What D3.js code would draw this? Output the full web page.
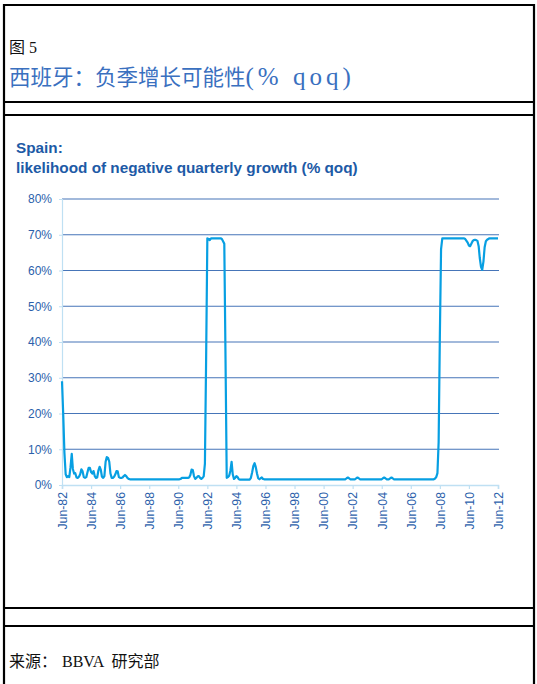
<!DOCTYPE html>
<html>
<head>
<meta charset="utf-8">
<script src="https://cdn.jsdelivr.net/npm/d3@7"></script>
<style>
  body { margin: 0; background: #fff; }
  svg { display: block; }
</style>
</head>
<body>
<script>
// Figure texts
const figureLabel = "图 5";
const cnTitle = ["西班牙：负季增长可能性", "(% qoq)"];
const enTitle = ["Spain:", "likelihood of negative quarterly growth (% qoq)"];
const sourceNote = ["来源：", "BBVA", "研究部"];

// Monthly likelihood of negative q/q growth (%), starting Jun-82, one row per 12 months
const startMonth = "1982-06";
const probNeg = [
  29, 20, 9, 3, 2.2, 2.5, 2.2, 5, 8.7, 4.5, 3.2, 3.3,
  2.1, 2, 2.3, 3, 4.4, 3.8, 2.2, 2, 2.2, 3.5, 4.8, 4.8,
  3.6, 3.2, 3.9, 2.5, 2, 2.1, 4, 5.1, 4.2, 2.3, 2, 2.5,
  6.5, 7.8, 7.6, 6.5, 3.2, 2, 2, 2.3, 3, 3.9, 3.8, 2.2,
  2, 2, 2.1, 2.5, 2.8, 2.5, 2, 1.7, 1.6, 1.6, 1.6, 1.6,
  1.6, 1.6, 1.6, 1.6, 1.6, 1.6, 1.6, 1.6, 1.6, 1.6, 1.6, 1.6,
  1.6, 1.6, 1.6, 1.6, 1.6, 1.6, 1.6, 1.6, 1.6, 1.6, 1.6, 1.6,
  1.6, 1.6, 1.6, 1.6, 1.6, 1.6, 1.6, 1.6, 1.6, 1.6, 1.6, 1.6,
  1.6, 1.6, 1.7, 2, 2, 2, 2, 2, 2, 2.1, 2.8, 4.3,
  4.2, 2.5, 1.7, 2, 2.4, 2.5, 2, 1.7, 2, 2.4, 6, 35,
  69, 68.8, 68.5, 69, 69, 69, 69, 69, 69, 69, 69, 69,
  68.8, 68.2, 67.5, 35, 2, 2.2, 2.6, 4, 6.5, 3, 1.7, 2,
  2.5, 2.2, 1.6, 1.5, 1.5, 1.5, 1.5, 1.5, 1.5, 1.5, 1.5, 1.5,
  2, 3.5, 5.3, 6.1, 5, 3.2, 1.9, 1.6, 1.9, 2.1, 1.7, 1.6,
  1.6, 1.6, 1.6, 1.6, 1.6, 1.6, 1.6, 1.6, 1.6, 1.6, 1.6, 1.6,
  1.6, 1.6, 1.6, 1.6, 1.6, 1.6, 1.6, 1.6, 1.6, 1.6, 1.6, 1.6,
  1.6, 1.6, 1.6, 1.6, 1.6, 1.6, 1.6, 1.6, 1.6, 1.6, 1.6, 1.6,
  1.6, 1.6, 1.6, 1.6, 1.6, 1.6, 1.6, 1.6, 1.6, 1.6, 1.6, 1.6,
  1.6, 1.6, 1.6, 1.6, 1.6, 1.6, 1.6, 1.6, 1.6, 1.6, 1.6, 1.6,
  1.6, 1.6, 1.6, 1.6, 1.6, 1.6, 1.6, 1.9, 2.1, 1.9, 1.6, 1.6,
  1.6, 1.6, 1.6, 1.9, 2.1, 1.9, 1.6, 1.6, 1.6, 1.6, 1.6, 1.6,
  1.6, 1.6, 1.6, 1.6, 1.6, 1.6, 1.6, 1.6, 1.6, 1.6, 1.6, 1.6,
  1.6, 1.9, 2.1, 1.9, 1.6, 1.6, 1.6, 1.9, 2.1, 1.9, 1.6, 1.6,
  1.6, 1.6, 1.6, 1.6, 1.6, 1.6, 1.6, 1.6, 1.6, 1.6, 1.6, 1.6,
  1.6, 1.6, 1.6, 1.6, 1.6, 1.6, 1.6, 1.6, 1.6, 1.6, 1.6, 1.6,
  1.6, 1.6, 1.6, 1.6, 1.6, 1.6, 1.6, 1.6, 1.8, 2.2, 3.3, 12,
  42, 66, 69, 69, 69, 69, 69, 69, 69, 69, 69, 69,
  69, 69, 69, 69, 69, 69, 69, 69, 69, 68.8, 68.3, 67.8,
  67, 66.8, 67.5, 68.2, 68.5, 68.6, 68.5, 68.3, 66.8, 63.5, 61, 60.2,
  62.5, 66.5, 68.2, 68.6, 68.8, 69, 69, 69, 69, 69, 69, 69,
  69
];

const yTicks = [0, 10, 20, 30, 40, 50, 60, 70, 80];
const xTickLabels = ["Jun-82", "Jun-84", "Jun-86", "Jun-88", "Jun-90", "Jun-92", "Jun-94", "Jun-96",
                     "Jun-98", "Jun-00", "Jun-02", "Jun-04", "Jun-06", "Jun-08", "Jun-10", "Jun-12"];

const W = 537, H = 684;
const svg = d3.select("body").append("svg").attr("width", W).attr("height", H);
svg.append("rect").attr("width", W).attr("height", H).attr("fill", "#fff");

// Page frame: outer borders and section rules
const frame = svg.append("g").attr("stroke", "#000").attr("stroke-width", 2.2);
frame.append("line").attr("x1", 4).attr("x2", 4).attr("y1", 4).attr("y2", H);
frame.append("line").attr("x1", 534).attr("x2", 534).attr("y1", 4).attr("y2", H);
[5, 102, 115, 608, 626].forEach(y =>
  frame.append("line").attr("x1", 3).attr("x2", 535).attr("y1", y).attr("y2", y));

const serifCJK = "'Liberation Serif', 'Noto Sans CJK SC', serif";
svg.append("text").attr("x", 9).attr("y", 53).attr("font-family", serifCJK)
  .attr("font-size", 16).attr("fill", "#111").text(figureLabel);

const cn = svg.append("text").attr("x", 9).attr("y", 85).attr("font-family", serifCJK)
  .attr("font-size", 21.5).attr("fill", "#3a70bf");
cn.append("tspan").text(cnTitle[0]);
cn.append("tspan").attr("font-size", 25).attr("letter-spacing", 4)
  .attr("xml:space", "preserve").text(cnTitle[1]);

const src = svg.append("text").attr("x", 9).attr("y", 667).attr("font-family", serifCJK)
  .attr("font-size", 16).attr("fill", "#111");
src.append("tspan").text(sourceNote[0]);
src.append("tspan").attr("dx", 5).text(sourceNote[1]);
src.append("tspan").attr("dx", 7).text(sourceNote[2]);

// Chart titles
const sans = "'Liberation Sans', Arial, sans-serif";
svg.selectAll("text.entitle").data(enTitle).join("text")
  .attr("class", "entitle")
  .attr("x", 16).attr("y", (d, i) => 153 + i * 20)
  .attr("font-family", sans).attr("font-weight", "bold")
  .attr("font-size", 15.3).attr("fill", "#1d5aa6").text(d => d);

// Scales
const parseMonth = d3.timeParse("%Y-%m");
const parseTick = d3.timeParse("%b-%y");
const t0 = parseMonth(startMonth);
const series = probNeg.map((v, i) => ({ date: d3.timeMonth.offset(t0, i), value: v }));
const tickDates = xTickLabels.map(parseTick);

const x = d3.scaleTime().domain([tickDates[0], tickDates[tickDates.length - 1]]).range([62, 498]);
const y = d3.scaleLinear().domain([0, 80]).range([485, 199]);

// Horizontal gridlines
svg.append("g").selectAll("line").data(yTicks.filter(d => d > 0)).join("line")
  .attr("x1", 62).attr("x2", 499)
  .attr("y1", d => y(d)).attr("y2", d => y(d))
  .attr("stroke", "#4675b8").attr("stroke-width", 1.2);

const axisColor = "#bfe0f3";
const labelColor = "#2c5fab";

// Y axis
const yAxis = svg.append("g").attr("transform", "translate(62,0)")
  .call(d3.axisLeft(y).tickValues(yTicks).tickFormat(d => d + "%").tickSize(3).tickPadding(7));
yAxis.select(".domain").attr("stroke", axisColor).attr("stroke-width", 1.2);
yAxis.selectAll(".tick line").attr("stroke", axisColor);
yAxis.selectAll("text").attr("font-family", sans).attr("font-size", 12).attr("fill", labelColor);

// X axis
const xAxis = svg.append("g").attr("transform", `translate(0,${y(0)})`)
  .call(d3.axisBottom(x).tickValues(tickDates).tickFormat((d, i) => xTickLabels[i]).tickSize(4));
xAxis.select(".domain").attr("stroke", axisColor).attr("stroke-width", 1.5);
xAxis.selectAll(".tick line").attr("stroke", axisColor).attr("stroke-width", 1.2);
xAxis.selectAll("text")
  .attr("font-family", sans).attr("font-size", 12.3).attr("fill", labelColor)
  .attr("transform", "rotate(-90)")
  .attr("x", -7).attr("y", 0).attr("dy", "0.35em")
  .style("text-anchor", "end");

// Series line
svg.append("path").datum(series)
  .attr("fill", "none").attr("stroke", "#079fe2").attr("stroke-width", 2.2)
  .attr("stroke-linejoin", "round")
  .attr("d", d3.line().x(d => x(d.date)).y(d => y(d.value)));
</script>
</body>
</html>
